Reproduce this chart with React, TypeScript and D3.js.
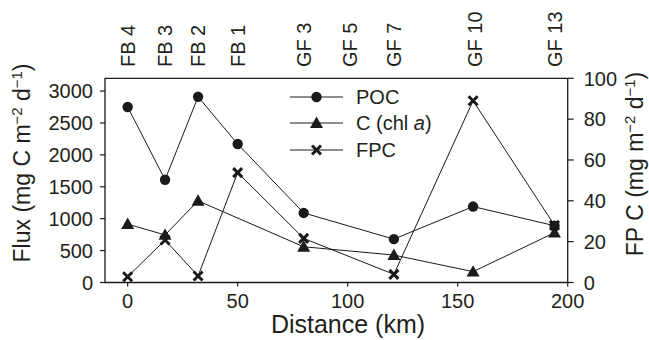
import React from "react";
import * as d3 from "d3";

const W = 649;
const H = 340;

const stationNames = ["FB 4", "FB 3", "FB 2", "FB 1", "GF 3", "GF 5", "GF 7", "GF 10", "GF 13"];
const stationDist = [0, 17, 32, 50, 80, 101, 121, 158, 194];

const pocDist = [0, 17, 32, 50, 80, 121, 157, 194];
const pocValues = [2750, 1610, 2910, 2170, 1090, 680, 1190, 890];

const chlDist = [0, 17, 32, 80, 121, 157, 194];
const chlValues = [915, 745, 1280, 560, 430, 170, 780];

const fpcDist = [0, 17, 32, 50, 80, 121, 157, 194];
const fpcValues = [2.8, 20.8, 3.2, 53.8, 21.6, 4.0, 89, 28];

const xTicks = [0, 50, 100, 150, 200];
const yLeftTicks = [0, 500, 1000, 1500, 2000, 2500, 3000];
const yRightTicks = [0, 20, 40, 60, 80, 100];

const FONT = "'Liberation Sans', Arial, Helvetica, sans-serif";
const TXT = "#231f20";
const LINE = "#1a1a1a";

export default function App() {
  const left = 105, right = 567.7, top = 78.3, bottom = 282.5;
  const x = d3.scaleLinear().domain([-10.3, 200]).range([left, right]);
  const yL = d3.scaleLinear().domain([0, 3200]).range([bottom, top]);
  const yR = d3.scaleLinear().domain([0, 100]).range([bottom, top]);
  const fs = 20;
  const tfs = 23;

  const line = d3.line<[number, number]>().x((d) => d[0]).y((d) => d[1]);
  const pocPts: [number, number][] = pocDist.map((d, i) => [x(d), yL(pocValues[i])]);
  const chlPts: [number, number][] = chlDist.map((d, i) => [x(d), yL(chlValues[i])]);
  const fpcPts: [number, number][] = fpcDist.map((d, i) => [x(d), yR(fpcValues[i])]);

  const circle = (cx: number, cy: number, k: string) => (
    <circle key={k} cx={cx} cy={cy} r={5.2} fill={LINE} />
  );
  const tri = (cx: number, cy: number, k: string) => {
    const s = 6.5;
    return (
      <path
        key={k}
        d={`M${cx},${cy - s}L${cx + s * 1.0},${cy + s * 0.75}L${cx - s * 1.0},${cy + s * 0.75}Z`}
        fill={LINE}
      />
    );
  };
  const cross = (cx: number, cy: number, k: string) => {
    const s = 4.5;
    return (
      <path
        key={k}
        d={`M${cx - s},${cy - s}L${cx + s},${cy + s}M${cx - s},${cy + s}L${cx + s},${cy - s}`}
        stroke={LINE}
        strokeWidth={3}
        fill="none"
      />
    );
  };

  const legendRows = [
    { y: 97, marker: circle, label: <tspan>POC</tspan> },
    {
      y: 123,
      marker: tri,
      label: (
        <>
          <tspan>C (chl </tspan>
          <tspan fontStyle="italic">a</tspan>
          <tspan>)</tspan>
        </>
      ),
    },
    { y: 150, marker: cross, label: <tspan>FPC</tspan> },
  ];

  const unit = (
    <>
      <tspan fontSize={tfs * 0.65} dy={-8.5}>−2</tspan>
      <tspan dy={8.5}> d</tspan>
      <tspan fontSize={tfs * 0.65} dy={-8.5}>−1</tspan>
      <tspan dy={8.5}>)</tspan>
    </>
  );

  return (
    <svg
      width={W}
      height={H}
      style={{ position: "absolute", left: 0, top: 0, background: "#fff" }}
      fontFamily={FONT}
    >
      <rect width={W} height={H} fill="#fff" />
      <path
        d={`M${left},${top}L${right},${top}L${right},${bottom}L${left},${bottom}Z`}
        fill="none"
        stroke={LINE}
        strokeWidth={1.3}
      />
      {xTicks.map((t) => (
        <g key={"xt" + t}>
          <line x1={x(t)} x2={x(t)} y1={bottom} y2={bottom + 4} stroke={LINE} strokeWidth={1.2} />
          <text x={x(t)} y={bottom + 25} textAnchor="middle" fontSize={fs} fill={TXT}>
            {t}
          </text>
        </g>
      ))}
      {yLeftTicks.map((t) => (
        <g key={"yl" + t}>
          <line x1={left - 5} x2={left} y1={yL(t)} y2={yL(t)} stroke={LINE} strokeWidth={1.2} />
          <text x={left - 12} y={yL(t)} dy="0.36em" textAnchor="end" fontSize={fs} fill={TXT}>
            {t}
          </text>
        </g>
      ))}
      {yRightTicks.map((t) => (
        <g key={"yr" + t}>
          <line x1={right} x2={right + 6} y1={yR(t)} y2={yR(t)} stroke={LINE} strokeWidth={1.2} />
          <text x={right + 16} y={yR(t)} dy="0.36em" textAnchor="start" fontSize={fs} fill={TXT}>
            {t}
          </text>
        </g>
      ))}
      {stationNames.map((s, i) => (
        <text
          key={"st" + s}
          transform={`translate(${x(stationDist[i])},${67}) rotate(-90)`}
          dy="0.36em"
          textAnchor="start"
          fontSize={fs}
          fill={TXT}
        >
          {s}
        </text>
      ))}
      <text x={348} y={333} textAnchor="middle" fontSize={25} fill={TXT}>
        Distance (km)
      </text>
      <text
        transform={`translate(22,${163}) rotate(-90)`}
        dy="0.36em"
        textAnchor="middle"
        fontSize={tfs}
        fill={TXT}
      >
        <tspan>Flux (mg C m</tspan>
        {unit}
      </text>
      <text
        transform={`translate(635,${164}) rotate(-90)`}
        dy="0.36em"
        textAnchor="middle"
        fontSize={tfs}
        fill={TXT}
      >
        <tspan>FP C (mg m</tspan>
        {unit}
      </text>
      <path d={line(pocPts) || ""} fill="none" stroke={LINE} strokeWidth={1} />
      <path d={line(chlPts) || ""} fill="none" stroke={LINE} strokeWidth={1} />
      <path d={line(fpcPts) || ""} fill="none" stroke={LINE} strokeWidth={1} />
      {pocPts.map((p, i) => circle(p[0], p[1], "pc" + i))}
      {chlPts.map((p, i) => tri(p[0], p[1], "ch" + i))}
      {fpcPts.map((p, i) => cross(p[0], p[1], "fp" + i))}
      {legendRows.map((r, i) => (
        <g key={"lg" + i}>
          <line x1={290} x2={343} y1={r.y} y2={r.y} stroke={LINE} strokeWidth={1} />
          {r.marker(316.5, r.y, "lm" + i)}
          <text x={356} y={r.y} dy="0.36em" fontSize={fs} fill={TXT}>
            {r.label}
          </text>
        </g>
      ))}
    </svg>
  );
}
